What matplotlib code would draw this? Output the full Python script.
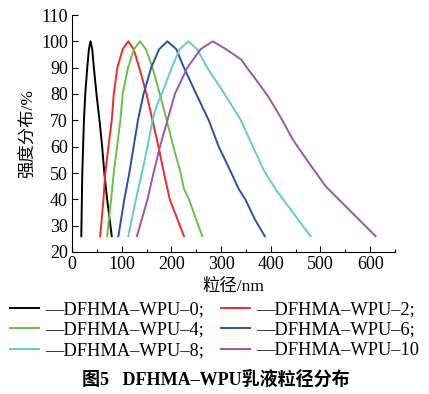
import matplotlib
matplotlib.use("Agg")
import matplotlib.pyplot as plt
from matplotlib.ticker import MultipleLocator

plt.rcParams['font.family'] = ['Liberation Serif', 'Noto Sans CJK SC']
plt.rcParams['axes.unicode_minus'] = False

# particle size (nm) / intensity (%)
x0 = [18.7, 20.7, 24, 26.7, 30.7, 34, 37.3, 40.7, 44, 49.3, 55.3, 60.7, 65, 70.7, 80]
y0 = [26, 50, 70, 80, 90, 97, 100, 97, 90, 80, 70, 60, 50, 40, 26]

x2 = [56.7, 63.3, 67, 73.3, 80, 84, 91.3, 102, 113.3, 124, 135.3, 150, 162, 174, 185, 192, 196.7, 225.3]
y2 = [26, 40, 50, 60, 70, 80, 90, 97, 100, 97, 90, 80, 70, 60, 50, 44, 40, 26]

x4 = [70.7, 78.7, 84, 90.7, 97.3, 102, 112.7, 124.7, 136.7, 148.7, 162, 176.7, 190.7, 204, 218.7, 225.3, 235.3, 262]
y4 = [26, 40, 50, 60, 70, 80, 90, 97, 100, 97, 90, 80, 70, 60, 50, 44, 40, 26]

x6 = [93.3, 105.3, 115.3, 124, 132.7, 144, 159.3, 175.3, 192, 210, 225.3, 250, 275.3, 295.3, 320.7, 335.3, 348.7, 368, 388]
y6 = [26, 40, 50, 60, 70, 80, 90, 97, 100, 97, 90, 80, 70, 60, 50, 44, 40, 32.4, 26]

x8 = [113.3, 128.7, 140.7, 152, 162, 171, 180.7, 200.7, 216.7, 234, 252, 272, 307, 340, 364, 386, 411, 480]
y8 = [26, 40, 50, 60, 70, 76, 80, 90, 97, 100, 97, 90, 80, 70, 60, 51, 43.5, 26]

x10 = [130.7, 152, 164, 177, 192, 207, 232, 258.7, 283.3, 310, 341, 352, 368, 395, 421, 445, 475, 511, 611]
y10 = [26, 40, 50, 60, 70, 80, 90, 97, 100, 97, 93, 90, 86, 79, 70.8, 62.5, 54.3, 44.8, 26]

labels = ['—DFHMA–WPU–0;', '—DFHMA–WPU–2;', '—DFHMA–WPU–4;',
          '—DFHMA–WPU–6;', '—DFHMA–WPU–8;', '—DFHMA–WPU–10']
colors = ['black', '#ee2a2a', '#6cbf45', '#2a50a6', '#62c9d8', '#9e55a8']
xs = [x0, x2, x4, x6, x8, x10]
ys = [y0, y2, y4, y6, y8, y10]

fig = plt.figure(figsize=(4.29, 3.94), dpi=100)
ax = fig.add_axes([72/429, 1-252/394, (395-72)/429, (252-15)/394])

lines = []
for x, y, c, lab in zip(xs, ys, colors, labels):
    ln, = ax.plot(x, y, color=c, lw=1.4, label=lab, solid_joinstyle='round')
    lines.append(ln)

ax.set_xlim(0, 650)
ax.set_ylim(20, 110)
ax.xaxis.set_major_locator(MultipleLocator(100))
ax.xaxis.set_minor_locator(MultipleLocator(50))
ax.yaxis.set_major_locator(MultipleLocator(10))
ax.spines['top'].set_visible(False)
ax.spines['right'].set_visible(False)
ax.tick_params(direction='in', labelsize=13, length=4, width=0.8, pad=3)
ax.tick_params(which='minor', direction='in', length=2.5, width=0.8)
ax.set_xlabel('粒径/nm', fontsize=12.5, labelpad=4)
ax.set_ylabel('强度分布/%', fontsize=12.5, labelpad=3)

# legend goes row by row: 0,2 / 4,6 / 8,10
order = [0, 2, 4, 1, 3, 5]
fig.legend([lines[i] for i in order], [labels[i] for i in order],
           ncol=2, loc='upper left', bbox_to_anchor=(10/429, 1-301/394),
           frameon=False, fontsize=13.2, handlelength=1.6, handletextpad=0.3,
           columnspacing=0.95, labelspacing=0.2, borderaxespad=0, borderpad=0)

fig.text(216/429, 1-380/394, '图5   DFHMA–WPU乳液粒径分布', ha='center', va='center',
         fontsize=13, fontweight='bold')

fig.savefig('out.png', dpi=100)
